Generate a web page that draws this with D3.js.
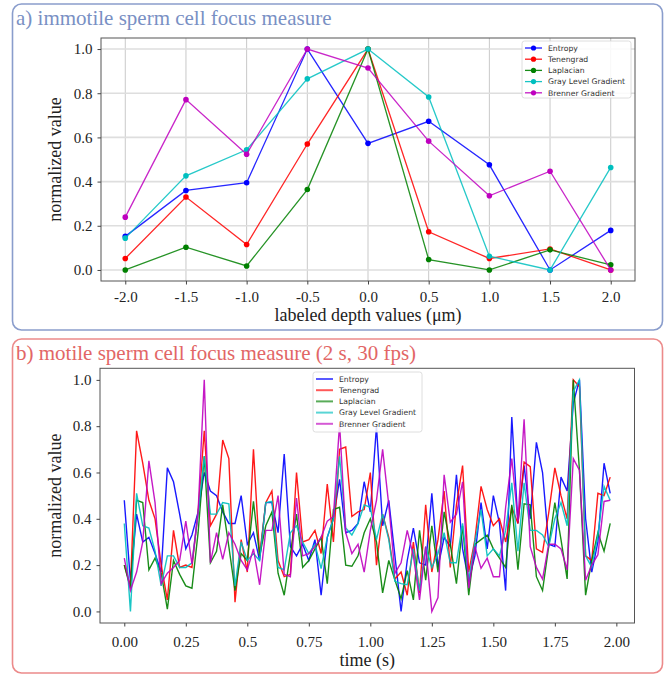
<!DOCTYPE html>
<html lang="en">
  <head>
    <meta charset="utf-8" />
    <title>Sperm cell focus measure</title>
    <script src="https://cdnjs.cloudflare.com/ajax/libs/d3/7.8.5/d3.min.js"></script>
    <style>
      body {
        margin: 0;
        background: #ffffff;
      }
      svg text {
        fill: #222;
      }
      .serif {
        font-family: "Liberation Serif", "Times New Roman", serif;
      }
      .legend text {
        font-family: "DejaVu Sans", sans-serif;
        font-size: 7.7px;
        fill: #333;
      }
    </style>
  </head>
  <body>
    <svg id="chart" width="669" height="675"></svg>

    <script>
      // ---- data ----
      const methods = [
        "Entropy",
        "Tenengrad",
        "Laplacian",
        "Gray Level Gradient",
        "Brenner Gradient",
      ];
      const colors = ["#0000ff", "#ff0000", "#008000", "#00bfbf", "#bf00bf"];

      // a) immotile cell, labeled depth (um)
      const depths = [-2.0, -1.5, -1.0, -0.5, 0.0, 0.5, 1.0, 1.5, 2.0];
      const depthTicks = ["-2.0", "-1.5", "-1.0", "-0.5", "0.0", "0.5", "1.0", "1.5", "2.0"];
      const immEntropy = [0.152, 0.36, 0.395, 1.0, 0.573, 0.673, 0.476, 0.0, 0.179];
      const immTenengrad = [0.052, 0.33, 0.115, 0.57, 1.0, 0.173, 0.052, 0.095, 0.0];
      const immLaplacian = [0.0, 0.103, 0.018, 0.364, 1.0, 0.047, 0.0, 0.091, 0.023];
      const immGrayLevel = [0.144, 0.426, 0.544, 0.865, 1.0, 0.783, 0.062, 0.0, 0.464];
      const immBrenner = [0.239, 0.771, 0.524, 1.0, 0.914, 0.583, 0.336, 0.447, 0.0];

      // b) motile cell, 80 samples, 0.025 s apart
      const timeStep = 0.025;
      const timeTicks = [0, 0.25, 0.5, 0.75, 1.0, 1.25, 1.5, 1.75, 2.0];
      const timeTickLabels = ["0.00", "0.25", "0.5", "0.75", "1.00", "1.25", "1.50", "1.75", "2.00"];
      const motEntropy = [
        0.48, 0.13, 0.42, 0.30, 0.32, 0.25, 0.17, 0.62, 0.56, 0.42,
        0.27, 0.33, 0.43, 0.60, 0.52, 0.50, 0.43, 0.38, 0.38, 0.50,
        0.29, 0.34, 0.22, 0.47, 0.47, 0.34, 0.68, 0.28, 0.24, 0.29,
        0.22, 0.31, 0.07, 0.32, 0.40, 0.57, 0.34, 0.35, 0.38, 0.56,
        0.43, 0.80, 0.37, 0.48, 0.24, 0.00, 0.22, 0.36, 0.21, 0.20,
        0.51, 0.19, 0.32, 0.28, 0.59, 0.27, 0.13, 0.24, 0.47, 0.27,
        0.50, 0.38, 0.09, 0.84, 0.38, 0.63, 0.40, 0.73, 0.60, 0.29,
        0.28, 0.58, 0.52, 0.90, 1.00, 0.40, 0.17, 0.30, 0.64, 0.51,
      ];
      const motTenengrad = [
        0.20, 0.11, 0.78, 0.64, 0.48, 0.40, 0.20, 0.05, 0.35, 0.19,
        0.20, 0.19, 0.43, 0.78, 0.37, 0.42, 0.74, 0.66, 0.04, 0.31,
        0.17, 0.70, 0.24, 0.47, 0.52, 0.22, 0.15, 0.16, 0.60, 0.30,
        0.31, 0.35, 0.25, 0.55, 0.30, 0.70, 0.71, 0.41, 0.43, 0.44,
        0.60, 0.20, 0.42, 0.32, 0.14, 0.17, 0.07, 0.30, 0.08, 0.46,
        0.17, 0.31, 0.52, 0.19, 0.46, 0.63, 0.17, 0.31, 0.54, 0.44,
        0.37, 0.40, 0.30, 0.45, 0.38, 0.645, 0.625, 0.27, 0.255, 0.425,
        0.62, 0.50, 0.40, 1.00, 0.97, 0.24, 0.22, 0.51, 0.50, 0.58,
      ];
      const motLaplacian = [
        0.20, 0.10, 0.48, 0.47, 0.18, 0.23, 0.165, 0.01, 0.22, 0.16,
        0.11, 0.10, 0.34, 0.67, 0.21, 0.26, 0.46, 0.28, 0.09, 0.25,
        0.22, 0.475, 0.24, 0.37, 0.43, 0.165, 0.07, 0.25, 0.42, 0.19,
        0.22, 0.27, 0.32, 0.12, 0.44, 0.45, 0.20, 0.195, 0.24, 0.34,
        0.40, 0.30, 0.08, 0.22, 0.135, 0.055, 0.176, 0.05, 0.35, 0.135,
        0.37, 0.17, 0.43, 0.29, 0.12, 0.37, 0.07, 0.29, 0.31, 0.33,
        0.27, 0.23, 0.19, 0.46, 0.18, 0.465, 0.46, 0.15, 0.09, 0.28,
        0.47, 0.31, 0.14, 1.00, 0.61, 0.07, 0.22, 0.34, 0.26, 0.38,
      ];
      const motGrayLevel = [
        0.38, 0.00, 0.51, 0.37, 0.36, 0.26, 0.11, 0.24, 0.24, 0.19,
        0.19, 0.21, 0.42, 0.67, 0.42, 0.42, 0.47, 0.465, 0.11, 0.30,
        0.22, 0.25, 0.22, 0.47, 0.475, 0.19, 0.18, 0.34, 0.37, 0.30,
        0.25, 0.29, 0.185, 0.32, 0.40, 0.67, 0.36, 0.33, 0.38, 0.46,
        0.45, 0.31, 0.42, 0.31, 0.13, 0.12, 0.115, 0.27, 0.09, 0.28,
        0.19, 0.25, 0.34, 0.21, 0.21, 0.38, 0.135, 0.30, 0.44, 0.24,
        0.27, 0.24, 0.35, 0.555, 0.26, 0.555, 0.35, 0.35, 0.33, 0.28,
        0.40, 0.47, 0.37, 0.95, 1.00, 0.24, 0.19, 0.33, 0.54, 0.48,
      ];
      const motBrenner = [
        0.23, 0.09, 0.17, 0.30, 0.65, 0.47, 0.12, 0.165, 0.19, 0.22,
        0.39, 0.205, 0.43, 1.00, 0.21, 0.34, 0.225, 0.34, 0.29, 0.22,
        0.18, 0.27, 0.115, 0.35, 0.35, 0.50, 0.16, 0.15, 0.49, 0.24,
        0.25, 0.28, 0.32, 0.39, 0.41, 0.81, 0.34, 0.25, 0.29, 0.17,
        0.35, 0.48, 0.70, 0.46, 0.165, 0.21, 0.35, 0.24, 0.05, 0.28,
        0.00, 0.06, 0.59, 0.385, 0.42, 0.56, 0.10, 0.28, 0.186, 0.23,
        0.15, 0.15, 0.45, 0.66, 0.39, 0.83, 0.28, 0.19, 0.14, 0.29,
        0.29, 0.27, 0.18, 0.66, 0.61, 0.135, 0.20, 0.245, 0.475, 0.48,
      ];

      const valueTicks = [0, 0.2, 0.4, 0.6, 0.8, 1.0];

      const immSeries = [immEntropy, immTenengrad, immLaplacian, immGrayLevel, immBrenner];
      const motSeries = [motEntropy, motTenengrad, motLaplacian, motGrayLevel, motBrenner];
      const times = motEntropy.map((_, i) => i * timeStep);

      const svg = d3.select("#chart");

      // ---- panel boxes and titles ----
      function panel(y, h, stroke, titleColor, title) {
        svg
          .append("rect")
          .attr("x", 12.5)
          .attr("y", y)
          .attr("width", 650)
          .attr("height", h)
          .attr("rx", 9)
          .attr("fill", "none")
          .attr("stroke", stroke)
          .attr("stroke-width", 1.6);
        svg
          .append("text")
          .attr("class", "serif")
          .attr("x", 16)
          .attr("y", y + 20.5)
          .style("font-size", "21px")
          .style("fill", titleColor)
          .text(title);
      }
      panel(4, 326, "#8a9dcc", "#7990c4", "a) immotile sperm cell focus measure");
      panel(339, 334, "#ec8a8a", "#e26666", "b) motile sperm cell focus measure (2 s, 30 fps)");

      // ---- shared axis helpers ----
      function frame(g, x, y) {
        g.append("rect")
          .attr("x", x.range()[0])
          .attr("y", y.range()[1])
          .attr("width", x.range()[1] - x.range()[0])
          .attr("height", y.range()[0] - y.range()[1])
          .attr("fill", "none")
          .attr("stroke", "#555")
          .attr("stroke-width", 1);
      }

      function axes(g, x, y, xTicks, xLabels, xTitle, labelY, titleY) {
        const x0 = x.range()[0];
        const yb = y.range()[0];

        const yAxis = g
          .append("g")
          .attr("transform", `translate(${x0},0)`)
          .call(d3.axisLeft(y).tickValues(valueTicks).tickFormat(d3.format(".1f")).tickSize(3.5).tickPadding(5));
        yAxis.select(".domain").remove();
        yAxis.selectAll("line").attr("stroke", "#444");
        yAxis.selectAll("text").attr("class", "serif").style("font-size", "15px").attr("fill", "#222");

        const xAxis = g
          .append("g")
          .attr("transform", `translate(0,${yb})`)
          .call(d3.axisBottom(x).tickValues(xTicks).tickFormat((d, i) => xLabels[i]).tickSize(3.5).tickPadding(labelY));
        xAxis.select(".domain").remove();
        xAxis.selectAll("line").attr("stroke", "#444");
        xAxis.selectAll("text").attr("class", "serif").style("font-size", "15px").attr("fill", "#222");

        g.append("text")
          .attr("class", "serif")
          .attr("x", (x.range()[0] + x.range()[1]) / 2)
          .attr("y", titleY)
          .attr("text-anchor", "middle")
          .style("font-size", "18px")
          .text(xTitle);

        g.append("text")
          .attr("class", "serif")
          .attr("transform", `translate(61,${(y.range()[0] + y.range()[1]) / 2}) rotate(-90)`)
          .attr("text-anchor", "middle")
          .style("font-size", "18px")
          .text("normalized value");
      }

      function legend(g, x0, y0, w, h, withMarker, lineW, lineOpacity) {
        const lg = g.append("g").attr("class", "legend");
        lg.append("rect")
          .attr("x", x0)
          .attr("y", y0)
          .attr("width", w)
          .attr("height", h)
          .attr("rx", 2.5)
          .attr("fill", "#fff")
          .attr("fill-opacity", 0.85)
          .attr("stroke", "#d6d6d6")
          .attr("stroke-width", 0.8);
        methods.forEach((m, i) => {
          const cy = y0 + 7 + i * 11.2;
          lg.append("line")
            .attr("x1", x0 + 3)
            .attr("x2", x0 + 20)
            .attr("y1", cy)
            .attr("y2", cy)
            .attr("stroke", colors[i])
            .attr("stroke-width", lineW)
            .attr("stroke-opacity", lineOpacity);
          if (withMarker) {
            lg.append("circle").attr("cx", x0 + 11.5).attr("cy", cy).attr("r", 2.6).attr("fill", colors[i]);
          }
          lg.append("text")
            .attr("x", x0 + 26)
            .attr("y", cy + 2.8)
            .text(m);
        });
      }

      // ---- a) immotile ----
      const xa = d3.scaleLinear().domain([-2.2, 2.2]).range([101, 635]);
      const ya = d3.scaleLinear().domain([-0.05, 1.05]).range([281, 38]);
      const ga = svg.append("g");

      ga.append("g")
        .selectAll("line")
        .data(depths)
        .join("line")
        .attr("x1", (d) => xa(d))
        .attr("x2", (d) => xa(d))
        .attr("y1", ya.range()[0])
        .attr("y2", ya.range()[1])
        .attr("stroke", "#c9c9c9")
        .attr("stroke-width", 1);
      ga.append("g")
        .selectAll("line")
        .data(valueTicks)
        .join("line")
        .attr("x1", xa.range()[0])
        .attr("x2", xa.range()[1])
        .attr("y1", (d) => ya(d))
        .attr("y2", (d) => ya(d))
        .attr("stroke", "#dedede")
        .attr("stroke-width", 1.6);

      const lineA = d3
        .line()
        .x((d, i) => xa(depths[i]))
        .y((d) => ya(d));

      immSeries.forEach((s, k) => {
        ga.append("path")
          .attr("d", lineA(s))
          .attr("fill", "none")
          .attr("stroke", colors[k])
          .attr("stroke-width", 1.3)
          .attr("stroke-opacity", 0.85);
        ga.append("g")
          .selectAll("circle")
          .data(s)
          .join("circle")
          .attr("cx", (d, i) => xa(depths[i]))
          .attr("cy", (d) => ya(d))
          .attr("r", 2.8)
          .attr("fill", colors[k]);
      });

      frame(ga, xa, ya);
      axes(ga, xa, ya, depths, depthTicks, "labeled depth values (\u03bcm)", 6.5, 321);
      legend(ga, 522, 41, 109, 57, true, 1.3, 0.9);

      // ---- b) motile ----
      const tMax = d3.max(times);
      const xb = d3.scaleLinear().domain([-0.05 * tMax, tMax * 1.05]).range([100, 634.5]);
      const yb = d3.scaleLinear().domain([-0.05, 1.05]).range([623, 368.3]);
      const gb = svg.append("g");

      const lineB = d3
        .line()
        .x((d, i) => xb(times[i]))
        .y((d) => yb(d));

      motSeries.forEach((s, k) => {
        gb.append("path")
          .attr("d", lineB(s))
          .attr("fill", "none")
          .attr("stroke", colors[k])
          .attr("stroke-width", 1.4)
          .attr("stroke-opacity", 0.9);
      });

      frame(gb, xb, yb);
      axes(gb, xb, yb, timeTicks, timeTickLabels, "time (s)", 10, 666);
      legend(gb, 313, 372, 109, 60, false, 2, 0.65);
    </script>
  </body>
</html>
